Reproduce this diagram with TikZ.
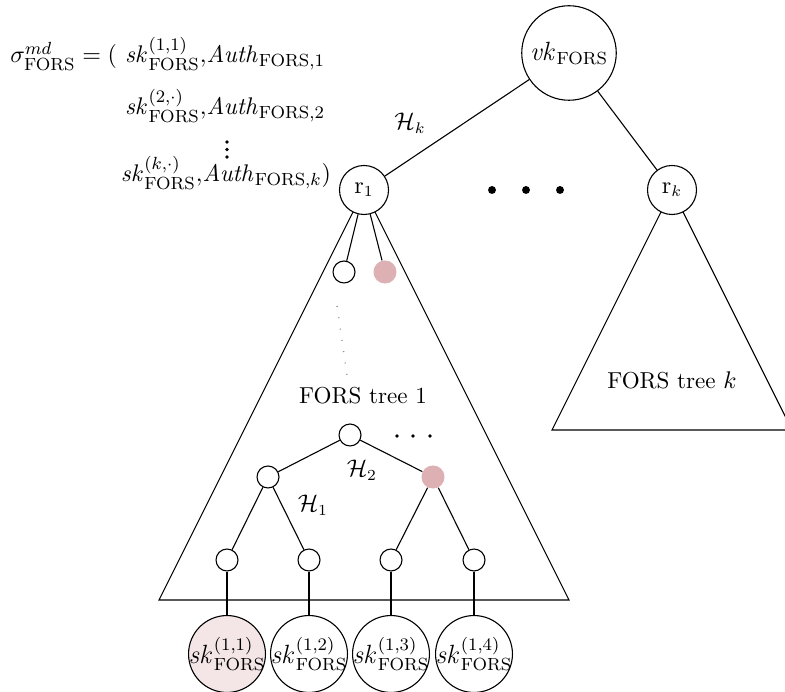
\documentclass[tikz,border=0pt]{standalone}
\usepackage{amsmath}
\definecolor{hlpink}{HTML}{DDB0B3}
\definecolor{leafpink}{HTML}{F4E6E6}
\newcommand{\FORS}{\mathrm{FORS}}
\begin{document}
\begin{tikzpicture}[x=0.455pt,y=-0.455pt,
  font=\fontsize{10.5}{12.6}\selectfont,
  edge/.style={draw=black,line width=0.5pt},
  bignode/.style={circle,draw,line width=0.5pt,fill=white,inner sep=0pt,minimum size=43pt},
  rootnode/.style={circle,draw,line width=0.5pt,fill=white,inner sep=0pt,minimum size=22.3pt},
  dotnode/.style={circle,draw,line width=0.5pt,fill=white,inner sep=0pt,minimum size=10pt},
  pinkdot/.style={circle,fill=hlpink,inner sep=0pt,minimum size=10.5pt},
  leafnode/.style={circle,draw,line width=0.5pt,fill=white,inner sep=0pt,minimum size=35pt,
    font=\fontsize{11.5}{13}\selectfont},
  bigdot/.style={circle,fill=black,inner sep=0pt,minimum size=3.6pt},
  smalldot/.style={circle,fill=black,inner sep=0pt,minimum size=1.8pt},
  sigline/.style={anchor=base,font=\fontsize{10.8}{13}\selectfont,inner sep=0pt}]
\useasboundingbox (0,0) rectangle (785,692);

% outlines of the two FORS trees
\coordinate (t1l) at (159,600);
\coordinate (t1r) at (569,600);
\coordinate (tkl) at (552,430);
\coordinate (tkr) at (792,430);
\draw[edge] (364,190) coordinate (t1a) -- (t1l) -- (t1r) -- cycle;
\draw[edge] (672,190) coordinate (tka) -- (tkl) -- (tkr) -- cycle;

% top part: public key and tree roots
\node[bignode,font=\fontsize{11.5}{13}\selectfont] (vk) at (569,53) {$\mathit{vk}_{\FORS}$};
\node[rootnode] (r1) at (364,190) {$\mathrm{r}_1$};
\node[rootnode] (rk) at (672,190) {$\mathrm{r}_k$};
\draw[edge] (vk) -- (r1);
\draw[edge] (vk) -- (rk);
\node (hk) at (410,123) {$\mathcal{H}_k$};
\node[bigdot] (d1) at (492,190) {};
\node[bigdot] (d2) at (526,190) {};
\node[bigdot] (d3) at (560,190) {};

% children of r1
\node[dotnode] (ca) at (344,272) {};
\node[pinkdot] (cb) at (385,272) {};
\draw[edge] (r1) -- (ca);
\draw[edge] (r1) -- (cb);
\coordinate (dtop) at (337,306);
\coordinate (dbot) at (348,382);
\draw[gray,line width=0.6pt,dash pattern=on 0.4pt off 4.8pt] (dtop) -- (dbot);

\node (lab1) at (363,396) {FORS tree 1};
\node (labk) at (672,380) {FORS tree $k$};

% lower subtree of FORS tree 1
\node[dotnode] (n0) at (350,435) {};
\node[dotnode] (n1) at (268,477) {};
\node[pinkdot] (n2) at (433,477) {};
\node[dotnode] (l1) at (227,560) {};
\node[dotnode] (l2) at (309,560) {};
\node[dotnode] (l3) at (391,560) {};
\node[dotnode] (l4) at (474,560) {};
\draw[edge] (n0) -- (n1);
\draw[edge] (n0) -- (n2);
\draw[edge] (n1) -- (l1);
\draw[edge] (n1) -- (l2);
\draw[edge] (n2) -- (l3);
\draw[edge] (n2) -- (l4);
\node[smalldot] (e1) at (397,436) {};
\node[smalldot] (e2) at (413,436) {};
\node[smalldot] (e3) at (430,436) {};
\node (h2) at (362,470) {$\mathcal{H}_2$};
\node (h1) at (313,505) {$\mathcal{H}_1$};

% secret key leaves (text boxed to zero width so the circle keeps its size)
\node[leafnode,fill=leafpink] (s1) at (227,654) {\makebox[0pt]{$\mathit{sk}^{(1,1)}_{\FORS}$}};
\node[leafnode] (s2) at (309,654) {\makebox[0pt]{$\mathit{sk}^{(1,2)}_{\FORS}$}};
\node[leafnode] (s3) at (391,654) {\makebox[0pt]{$\mathit{sk}^{(1,3)}_{\FORS}$}};
\node[leafnode] (s4) at (474,654) {\makebox[0pt]{$\mathit{sk}^{(1,4)}_{\FORS}$}};
\draw[edge] (l1) -- (s1);
\draw[edge] (l2) -- (s2);
\draw[edge] (l3) -- (s3);
\draw[edge] (l4) -- (s4);

% the signature
\node[sigline,anchor=base west] (sig) at (10,63) {$\sigma^{md}_{\FORS} = ($};
\node[sigline] (sg1) at (225,63) {$\mathit{sk}^{(1,1)}_{\FORS}{,}\mathit{Auth}_{\FORS,1}$};
\node[sigline] (sg2) at (225,115) {$\mathit{sk}^{(2,\cdot)}_{\FORS}{,}\mathit{Auth}_{\FORS,2}$};
\node[smalldot] (v1) at (227,142) {};
\node[smalldot] (v2) at (227,149.5) {};
\node[smalldot] (v3) at (227,157) {};
\node[sigline] (sg3) at (226,182) {$\mathit{sk}^{(k,\cdot)}_{\FORS}{,}\mathit{Auth}_{\FORS,k})$};
\end{tikzpicture}
\end{document}
